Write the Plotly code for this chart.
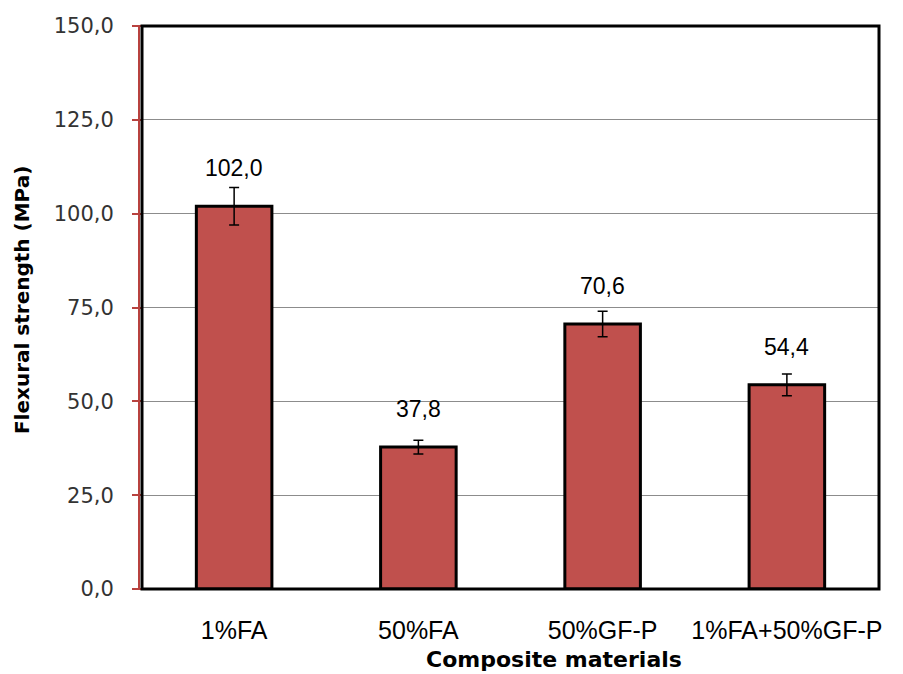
import plotly.graph_objects as go

# Flexural strength of the composite materials
categories = ["1%FA", "50%FA", "50%GF-P", "1%FA+50%GF-P"]
strength = [102.0, 37.8, 70.6, 54.4]
std_dev = [5.0, 1.8, 3.4, 2.9]
value_labels = ["102,0", "37,8", "70,6", "54,4"]
y_ticks = [0, 25, 50, 75, 100, 125, 150]
y_tick_text = ["0,0", "25,0", "50,0", "75,0", "100,0", "125,0", "150,0"]

BAR_COLOR = "#C0504D"
AXIS_RED = "#B8423F"

fig = go.Figure()
fig.add_trace(go.Bar(
    x=categories,
    y=strength,
    width=0.41,
    marker=dict(color=BAR_COLOR, line=dict(color="black", width=3)),
    error_y=dict(type="data", array=std_dev, visible=True,
                 color="black", thickness=1.5, width=5),
    showlegend=False,
))

annotations = []
for cat, val, lab in zip(categories, strength, value_labels):
    annotations.append(dict(
        x=cat, y=val, text=lab, showarrow=False,
        xref="x", yref="y", yanchor="middle", yshift=38,
        font=dict(family="Liberation Sans, Arial", size=23, color="black"),
    ))

# axis titles
annotations.append(dict(
    x=0.559, y=-0.126, xref="paper", yref="paper", showarrow=False,
    text="<b>Composite materials</b>", xanchor="center", yanchor="middle",
    font=dict(family="DejaVu Sans", size=22, color="black"),
))
annotations.append(dict(
    x=-0.163, y=0.513, xref="paper", yref="paper", showarrow=False,
    text="<b>Flexural strength (MPa)</b>", textangle=-90,
    xanchor="center", yanchor="middle",
    font=dict(family="DejaVu Sans", size=20, color="black"),
))

fig.update_layout(
    width=903, height=674,
    margin=dict(l=142, r=24, t=26, b=85),
    plot_bgcolor="white", paper_bgcolor="white",
    bargap=0.59,
    annotations=annotations,
    shapes=[
        # red value axis line just outside the frame
        dict(type="line", xref="paper", yref="paper",
             x0=-3.0 / 737, x1=-3.0 / 737, y0=0, y1=1,
             line=dict(color=AXIS_RED, width=2), layer="above"),
        # black plot frame
        dict(type="rect", xref="paper", yref="paper",
             x0=0, x1=1, y0=0, y1=1,
             line=dict(color="black", width=3), layer="above"),
    ],
)

fig.update_xaxes(
    showgrid=False, showline=False, zeroline=False,
    ticks="outside", ticklen=19, tickcolor="rgba(0,0,0,0)",
    tickfont=dict(family="Liberation Sans, Arial", size=25, color="black"),
)
fig.update_yaxes(
    range=[0, 150], tickvals=y_ticks, ticktext=y_tick_text,
    showgrid=True, gridcolor="#8C8C8C", gridwidth=1,
    zeroline=False, showline=False,
    ticks="outside", ticklen=9, tickcolor=AXIS_RED, tickwidth=1.5,
    ticklabelstandoff=14,
    tickfont=dict(family="DejaVu Sans", size=21, color="#333333"),
)

fig.write_html("out.html")
